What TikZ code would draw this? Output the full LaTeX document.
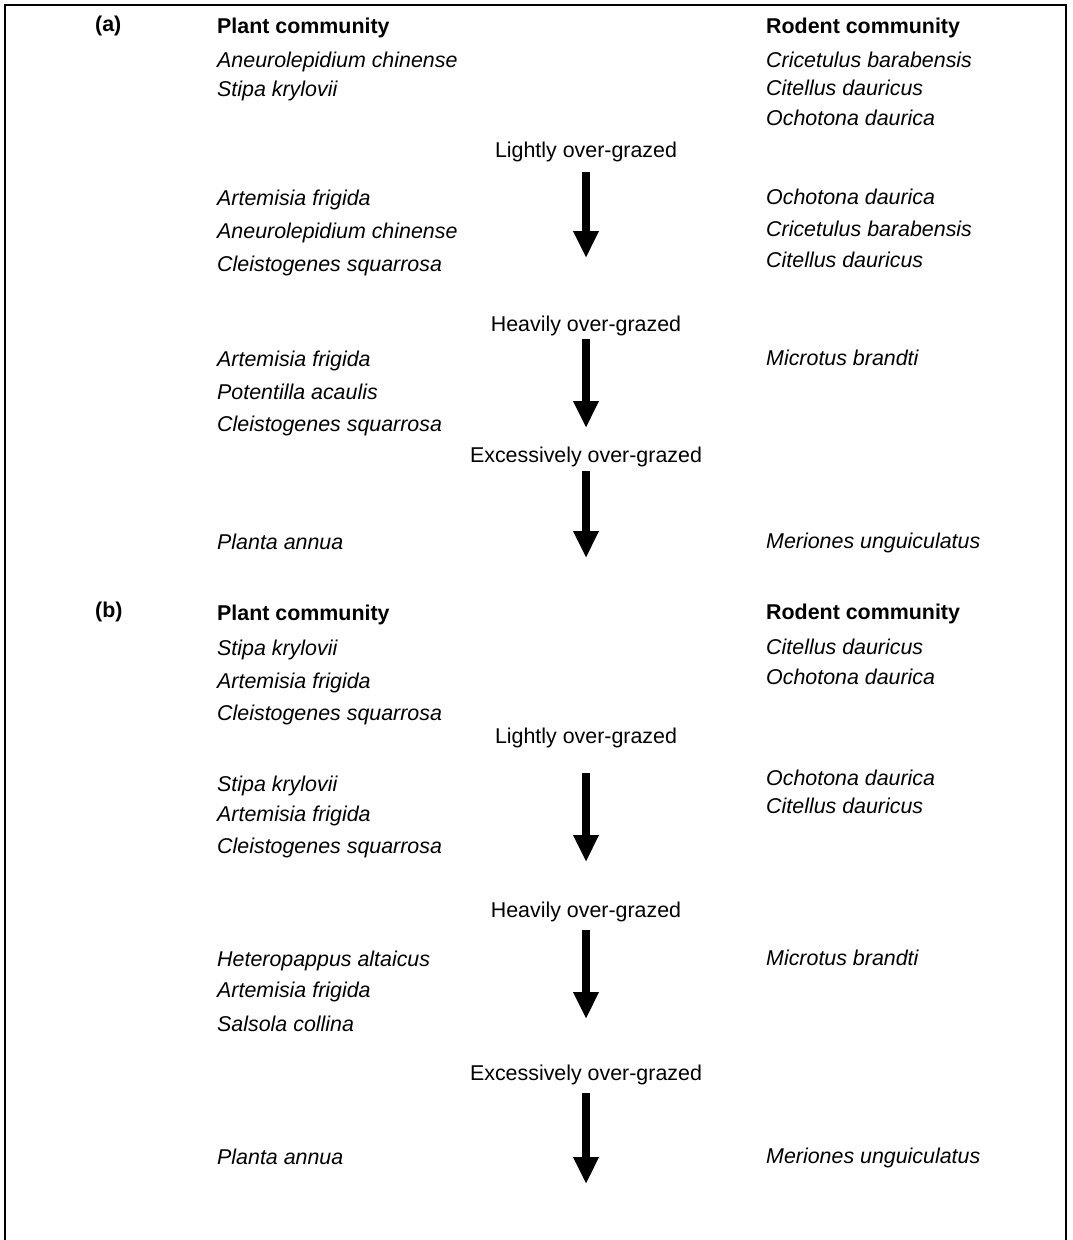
\documentclass[tikz,border=0pt]{standalone}
\usepackage{fontspec}
\setmainfont{Liberation Sans}
\usetikzlibrary{arrows.meta}
\begin{document}
\begin{tikzpicture}[x=1pt,y=-1pt,
  sp/.style={anchor=base west,inner sep=0pt,font=\fontsize{21.4}{25}\selectfont\itshape},
  hdr/.style={anchor=base west,inner sep=0pt,font=\fontsize{21.4}{25}\selectfont\bfseries},
  lbl/.style={anchor=base,inner sep=0pt,font=\fontsize{21.4}{25}\selectfont},
  bigarrow/.style={line width=8pt,-{Triangle[width=24pt,length=27pt]}},
  framestyle/.style={line width=2pt}]
\useasboundingbox (0,0) rectangle (1072,1240);
\draw[framestyle] (5,1240) -- (5,5) -- (1066,5) -- (1066,1240);

% ---------- (a) ----------
\node[hdr] (la) at (95,31) {(a)};
\node[hdr] (pa) at (217,33) {Plant community};
\node[hdr] (ra) at (766,33) {Rodent community};
\node[sp] (pa01) at (217,67) {Aneurolepidium chinense};
\node[sp] (pa02) at (217,96) {Stipa krylovii};
\node[sp] (ra01) at (766,67) {Cricetulus barabensis};
\node[sp] (ra02) at (766,95) {Citellus dauricus};
\node[sp] (ra03) at (766,125) {Ochotona daurica};
\node[lbl] (ga1) at (586,157) {Lightly over-grazed};
\coordinate (a1s) at (586,172);
\coordinate (a1e) at (586,258);
\draw[bigarrow] (a1s) -- (a1e);
\node[sp] (pa11) at (217,205) {Artemisia frigida};
\node[sp] (pa12) at (217,238) {Aneurolepidium chinense};
\node[sp] (pa13) at (217,271) {Cleistogenes squarrosa};
\node[sp] (ra11) at (766,204) {Ochotona daurica};
\node[sp] (ra12) at (766,236) {Cricetulus barabensis};
\node[sp] (ra13) at (766,267) {Citellus dauricus};
\node[lbl] (ga2) at (586,331) {Heavily over-grazed};
\coordinate (a2s) at (586,339);
\coordinate (a2e) at (586,428);
\draw[bigarrow] (a2s) -- (a2e);
\node[sp] (pa21) at (217,366) {Artemisia frigida};
\node[sp] (pa22) at (217,399) {Potentilla acaulis};
\node[sp] (pa23) at (217,431) {Cleistogenes squarrosa};
\node[sp] (ra21) at (766,365) {Microtus brandti};
\node[lbl] (ga3) at (586,462) {Excessively over-grazed};
\coordinate (a3s) at (586,471);
\coordinate (a3e) at (586,558);
\draw[bigarrow] (a3s) -- (a3e);
\node[sp] (pa31) at (217,549) {Planta annua};
\node[sp] (ra31) at (766,548) {Meriones unguiculatus};

% ---------- (b) ----------
\node[hdr] (lb) at (95,617) {(b)};
\node[hdr] (pb) at (217,620) {Plant community};
\node[hdr] (rb) at (766,619) {Rodent community};
\node[sp] (pb01) at (217,655) {Stipa krylovii};
\node[sp] (pb02) at (217,688) {Artemisia frigida};
\node[sp] (pb03) at (217,720) {Cleistogenes squarrosa};
\node[sp] (rb01) at (766,654) {Citellus dauricus};
\node[sp] (rb02) at (766,684) {Ochotona daurica};
\node[lbl] (gb1) at (586,743) {Lightly over-grazed};
\coordinate (b1s) at (586,773);
\coordinate (b1e) at (586,862);
\draw[bigarrow] (b1s) -- (b1e);
\node[sp] (pb11) at (217,791) {Stipa krylovii};
\node[sp] (pb12) at (217,821) {Artemisia frigida};
\node[sp] (pb13) at (217,853) {Cleistogenes squarrosa};
\node[sp] (rb11) at (766,785) {Ochotona daurica};
\node[sp] (rb12) at (766,813) {Citellus dauricus};
\node[lbl] (gb2) at (586,917) {Heavily over-grazed};
\coordinate (b2s) at (586,930);
\coordinate (b2e) at (586,1019);
\draw[bigarrow] (b2s) -- (b2e);
\node[sp] (pb21) at (217,966) {Heteropappus altaicus};
\node[sp] (pb22) at (217,997) {Artemisia frigida};
\node[sp] (pb23) at (217,1031) {Salsola collina};
\node[sp] (rb21) at (766,965) {Microtus brandti};
\node[lbl] (gb3) at (586,1080) {Excessively over-grazed};
\coordinate (b3s) at (586,1093);
\coordinate (b3e) at (586,1184);
\draw[bigarrow] (b3s) -- (b3e);
\node[sp] (pb31) at (217,1164) {Planta annua};
\node[sp] (rb31) at (766,1163) {Meriones unguiculatus};
\end{tikzpicture}
\end{document}
